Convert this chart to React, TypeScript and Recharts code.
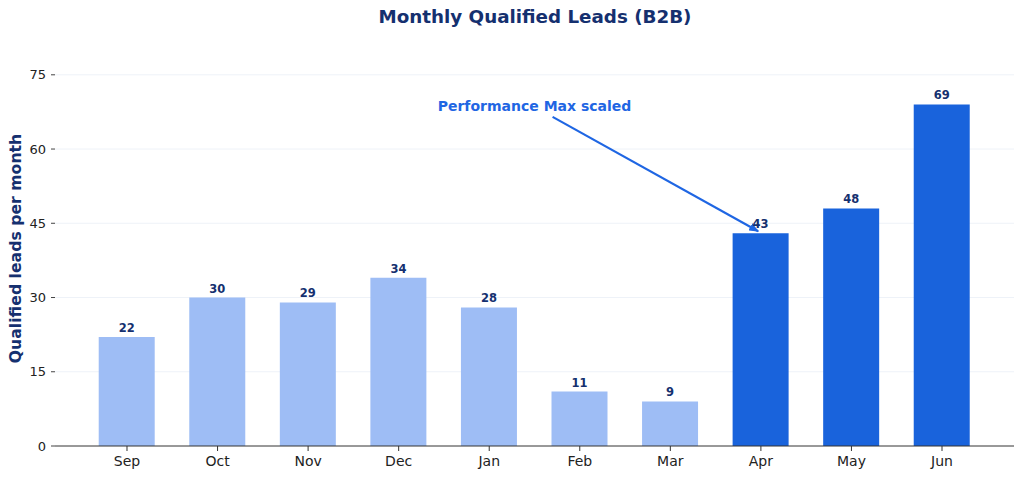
import { BarChart, Bar, XAxis, YAxis, CartesianGrid, LabelList, Cell, ReferenceLine, ReferenceDot } from 'recharts';

const MONTHS = ['Sep', 'Oct', 'Nov', 'Dec', 'Jan', 'Feb', 'Mar', 'Apr', 'May', 'Jun'];
const LEADS = [22, 30, 29, 34, 28, 11, 9, 43, 48, 69];
const SCALED_FROM = 'Apr';
const Y_TICKS = [0, 15, 30, 45, 60, 75];
const NOTE = 'Performance Max scaled';
const NOTE_TEXT_AT = { x: 4.5, y: 68.7 };
const NOTE_ARROW = [{ x: 4.7, y: 66.5 }, { x: 6.97, y: 43.4 }];

const NAVY = '#15306f';
const LIGHT = '#9ebdf5';
const DARK = '#1963dc';
const ACCENT = '#1f66e3';
const FONT = '"DejaVu Sans", Verdana, sans-serif';

const data = MONTHS.map((m, i) => ({ idx: i, month: m, leads: LEADS[i] }));
const scaledIdx = MONTHS.indexOf(SCALED_FROM);

const Arrow = (p: any) => (
  <g>
    <defs>
      <marker id="ah" markerWidth="10" markerHeight="8" refX="9" refY="4" orient="auto" markerUnits="userSpaceOnUse">
        <path d="M0,0 L10,4 L0,8 Z" fill={ACCENT} />
      </marker>
    </defs>
    <line x1={p.x1} y1={p.y1} x2={p.x2} y2={p.y2} stroke={ACCENT} strokeWidth={2.2} markerEnd="url(#ah)" />
  </g>
);

export default function App() {
  return (
    <div style={{ position: 'absolute', left: 0, top: 0, width: 1024, height: 479, background: '#fff', fontFamily: FONT }}>
      <div style={{ position: 'absolute', left: 0, right: 0, top: 6, textAlign: 'center', color: NAVY, fontWeight: 'bold', fontSize: 18.3, paddingLeft: 46 }}>
        Monthly Qualified Leads (B2B)
      </div>
      <BarChart width={1024} height={479} data={data} margin={{ top: 55, right: 10, bottom: 0, left: 0 }}>
        <CartesianGrid vertical={false} stroke="#eef2f8" horizontalValues={[15, 30, 45, 60, 75]} />
        <XAxis
          dataKey="idx"
          type="number"
          domain={[-0.795, 9.795]}
          ticks={MONTHS.map((_, i) => i)}
          tickFormatter={(v: number) => MONTHS[v]}
          height={33}
          tickSize={5}
          tickMargin={5}
          stroke="#333"
          tick={{ fill: '#222', fontSize: 14, fontFamily: FONT }}
          allowDataOverflow
        />
        <YAxis
          domain={[0, 79]}
          ticks={Y_TICKS}
          width={55}
          axisLine={false}
          tickSize={4}
          tickMargin={5}
          tickLine={{ stroke: '#444' }}
          tick={{ fill: '#222', fontSize: 13, fontFamily: FONT }}
          label={({ viewBox }: any) => (
            <text
              x={0}
              y={0}
              transform={`translate(21, ${viewBox.y + viewBox.height / 2 - 2}) rotate(-90)`}
              textAnchor="middle"
              fill={NAVY}
              fontWeight="bold"
              fontSize={15.7}
              fontFamily={FONT}
            >
              Qualified leads per month
            </text>
          )}
        />
        <Bar dataKey="leads" barSize={56} isAnimationActive={false}>
          {data.map((d) => (
            <Cell key={d.month} fill={d.idx >= scaledIdx ? DARK : LIGHT} />
          ))}
          <LabelList dataKey="leads" position="top" offset={5} fill={NAVY} fontSize={11.5} fontWeight="bold" fontFamily={FONT} />
        </Bar>
        <ReferenceLine segment={NOTE_ARROW} shape={Arrow} ifOverflow="visible" />
        <ReferenceDot
          x={NOTE_TEXT_AT.x}
          y={NOTE_TEXT_AT.y}
          ifOverflow="visible"
          shape={(p: any) => (
            <text x={p.cx} y={p.cy} textAnchor="middle" dominantBaseline="central" fill={ACCENT} fontWeight="bold" fontSize={14} fontFamily={FONT}>
              {NOTE}
            </text>
          )}
        />
      </BarChart>
    </div>
  );
}
